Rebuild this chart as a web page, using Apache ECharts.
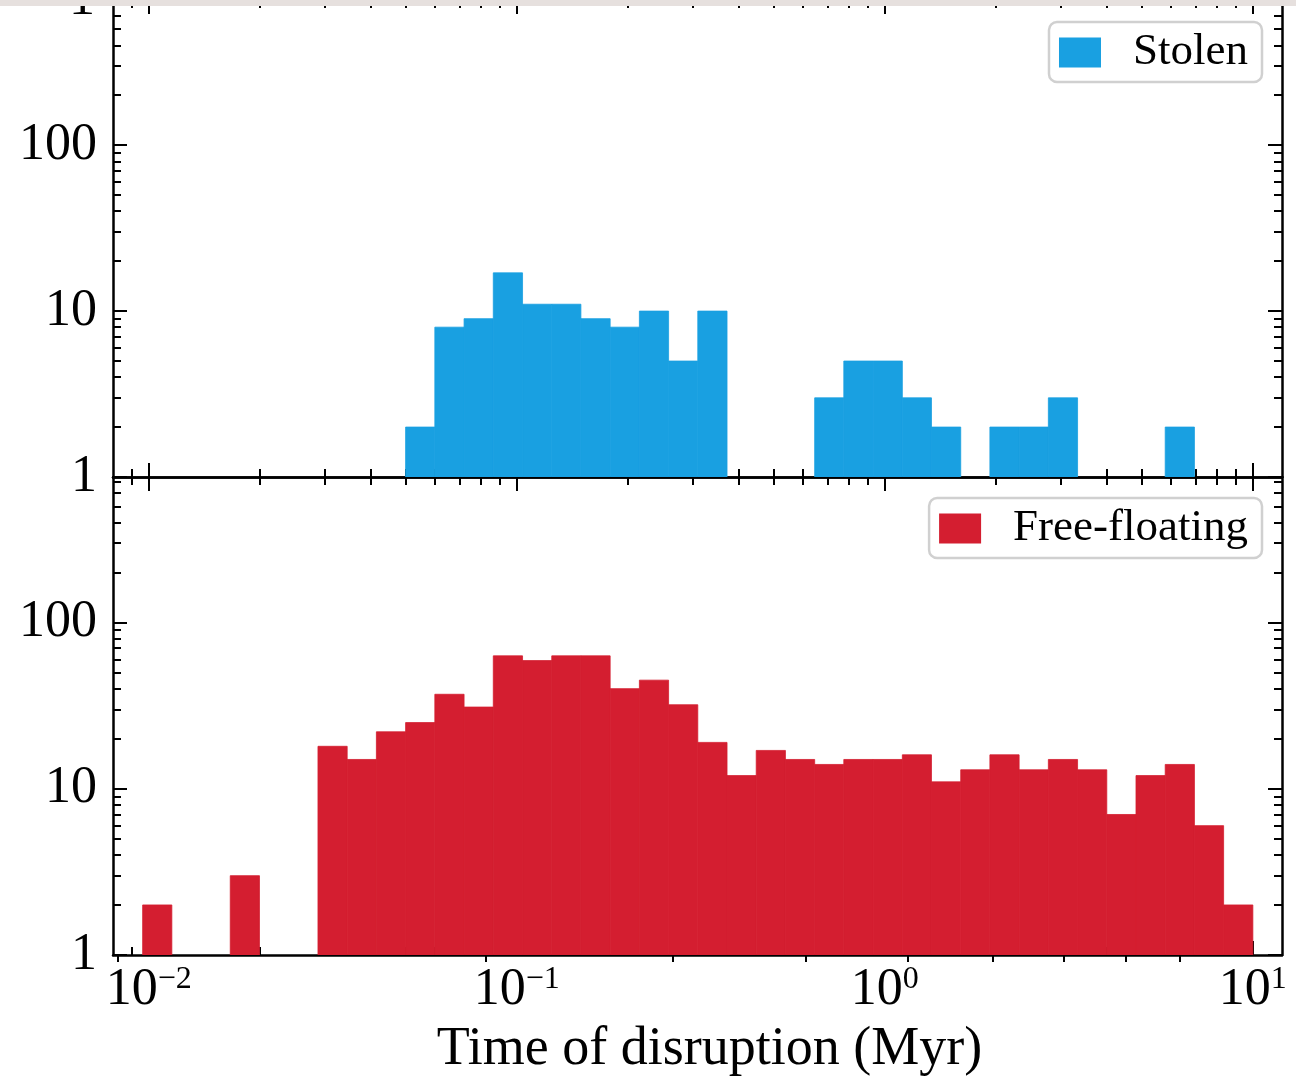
<!DOCTYPE html>
<html>
<head>
<meta charset="utf-8">
<script src="https://cdn.jsdelivr.net/npm/echarts@6/dist/echarts.min.js"></script>
<style>
    html, body { margin: 0; background: #fff; }
    #chart { width: 1296px; height: 1080px; }
</style>
</head>
<body>
<div id="chart"></div>
<script>
// bin edges in Myr (38 log-spaced bins)
const binEdges = [
    0.009631, 0.01156, 0.01388, 0.01666, 0.02000, 0.02402, 0.02884, 0.03462, 0.04156, 0.04990,
    0.05991, 0.07193, 0.08636, 0.1037, 0.1245, 0.1494, 0.1794, 0.2154, 0.2586, 0.3104,
    0.3727, 0.4474, 0.5370, 0.6449, 0.7738, 0.9292, 1.116, 1.339, 1.608, 1.930,
    2.317, 2.782, 3.340, 4.010, 4.814, 5.779, 6.938, 8.328, 10.00
]
const stolenCounts = [
    0, 0, 0, 0, 0, 0, 0, 0, 0, 2, 8, 9, 17, 11, 11, 9, 8, 10, 5, 10,
    0, 0, 0, 3, 5, 5, 3, 2, 0, 2, 2, 3, 0, 0, 0, 2, 0, 0
]
const freeCounts = [
    2, 0, 0, 3, 0, 0, 18, 15, 22, 25, 37, 31, 63, 59, 63, 63, 40, 45, 32, 19,
    12, 17, 15, 14, 15, 15, 16, 11, 13, 16, 13, 15, 13, 7, 12, 14, 6, 2
]
const xMajorTicks = [0.01, 0.1, 1, 10]
const xMinorTicks = [0.009, 0.02, 0.03, 0.04, 0.05, 0.06, 0.07, 0.08, 0.09,
    0.2, 0.3, 0.4, 0.5, 0.6, 0.7, 0.8, 0.9, 2, 3, 4, 5, 6, 7, 8, 9]
const yMajorTicks = [1, 10, 100]
const yMinorTicks = [2, 3, 4, 5, 6, 7, 8, 9, 20, 30, 40, 50, 60, 70, 80, 90, 200, 300, 400, 500, 600, 700]
// stray outward ticks under the lower panel
const bottomOuterTicks = [0.00822, 0.0824, 0.265, 0.61, 1.155, 1.97, 3.07, 4.52, 6.32]

const FONT = 'Liberation Serif'
const X_MIN = 0.008, X_MAX = 12, Y_MIN = 1, Y_MAX = 750
const tickStyle = {color: '#000', width: 2}
const spineStyle = {color: '#000', width: 2.5}

const superscript = (v) => {
    const e = Math.round(Math.log10(v))
    return '{b|10}{s|' + (e < 0 ? '\u2212' + (-e) : e) + '}'
}

const logAxis = (gridIndex, position, ticks, len, isX, extra) => {
    return Object.assign({
        type: 'log',
        gridIndex: gridIndex,
        position: position,
        min: isX ? X_MIN : Y_MIN,
        max: isX ? X_MAX : Y_MAX,
        axisLine: {show: false, onZero: false},
        axisTick: {show: true, inside: true, length: len, customValues: ticks, lineStyle: tickStyle},
        minorTick: {show: false},
        axisLabel: {show: false},
        splitLine: {show: false}
    }, extra || {})
}

const xAxes = []
const yAxes = []
for (let g = 0; g < 2; g++) {
    const mainX = {axisLine: {show: true, onZero: false, lineStyle: spineStyle}}
    if (g === 1) {
        mainX.axisLabel = {
            show: true,
            customValues: xMajorTicks,
            margin: 9,
            formatter: superscript,
            rich: {
                b: {fontFamily: FONT, fontSize: 52, lineHeight: 52, color: '#000'},
                s: {fontFamily: FONT, fontSize: 32, lineHeight: 32, color: '#000', verticalAlign: 'top'}
            }
        }
        mainX.name = 'Time of disruption (Myr)'
        mainX.nameLocation = 'middle'
        mainX.nameGap = 68
        mainX.nameTextStyle = {fontFamily: FONT, fontSize: 54, color: '#000', padding: [0, 0, 0, 24]}
    }
    xAxes.push(logAxis(g, 'bottom', xMajorTicks, 14, true, mainX))
    xAxes.push(logAxis(g, 'bottom', xMinorTicks, 8, true))
    xAxes.push(logAxis(g, 'top', xMajorTicks, 14, true, {axisLine: {show: true, onZero: false, lineStyle: spineStyle}}))
    xAxes.push(logAxis(g, 'top', xMinorTicks, 8, true))

    yAxes.push(logAxis(g, 'left', yMajorTicks, 14, false, {
        axisLine: {show: true, onZero: false, lineStyle: spineStyle},
        axisLabel: {show: true, customValues: yMajorTicks, margin: 16, fontFamily: FONT, fontSize: 52, color: '#000'}
    }))
    yAxes.push(logAxis(g, 'left', yMinorTicks, 8, false))
    yAxes.push(logAxis(g, 'right', yMajorTicks, 14, false, {axisLine: {show: true, onZero: false, lineStyle: spineStyle}}))
    yAxes.push(logAxis(g, 'right', yMinorTicks, 8, false))
}
// outward ticks below the lower panel
xAxes.push(logAxis(1, 'bottom', bottomOuterTicks, 7, true, {
    axisTick: {show: true, inside: false, length: 7, customValues: bottomOuterTicks, lineStyle: tickStyle}
}))

const histSeries = (name, counts, color, g) => {
    const data = []
    counts.forEach((c, i) => {
        if (c > 0) data.push([binEdges[i], binEdges[i + 1], c])
    })
    return {
        type: 'custom',
        name: name,
        xAxisIndex: g * 4,
        yAxisIndex: g * 4,
        data: data,
        encode: {x: [0, 1], y: 2},
        itemStyle: {color: color},
        clip: true,
        silent: true,
        renderItem: (params, api) => {
            const p0 = api.coord([api.value(0), Y_MIN])
            const p1 = api.coord([api.value(1), api.value(2)])
            return {
                type: 'rect',
                shape: {x: p0[0], y: p1[1], width: p1[0] - p0[0], height: p0[1] - p1[1]},
                style: {fill: api.visual('color'), stroke: api.visual('color'), lineWidth: 0.8}
            }
        }
    }
}

const legendBase = {
    orient: 'vertical',
    right: 34,
    icon: 'rect',
    itemWidth: 42,
    itemHeight: 30,
    selectedMode: false,
    backgroundColor: '#fff',
    borderColor: '#d0d0d0',
    borderWidth: 2.5,
    borderRadius: 8,
    padding: [8, 14, 7, 10],
    textStyle: {fontFamily: FONT, fontSize: 45, color: '#000', lineHeight: 42, padding: [0, 0, 0, 27]}
}

const chart = echarts.init(document.getElementById('chart'))
chart.setOption({
    animation: false,
    grid: [
        {left: 113, width: 1169, top: 0, height: 477},
        {left: 113, width: 1169, top: 477, height: 478}
    ],
    xAxis: xAxes,
    yAxis: yAxes,
    legend: [
        Object.assign({}, legendBase, {data: ['Stolen'], top: 22}),
        Object.assign({}, legendBase, {data: ['Free-floating'], top: 498})
    ],
    series: [
        histSeries('Stolen', stolenCounts, '#19a0e1', 0),
        histSeries('Free-floating', freeCounts, '#d41e30', 1)
    ],
    graphic: [
        {type: 'text', x: 95, y: 0, z: 50, style: {text: '1', font: '52px "Liberation Serif"', fill: '#000', align: 'right', verticalAlign: 'middle'}},
        {type: 'rect', left: 0, top: 0, z: 60, shape: {width: 1296, height: 6}, style: {fill: '#e6e0de'}}
    ]
})
</script>
</body>
</html>
